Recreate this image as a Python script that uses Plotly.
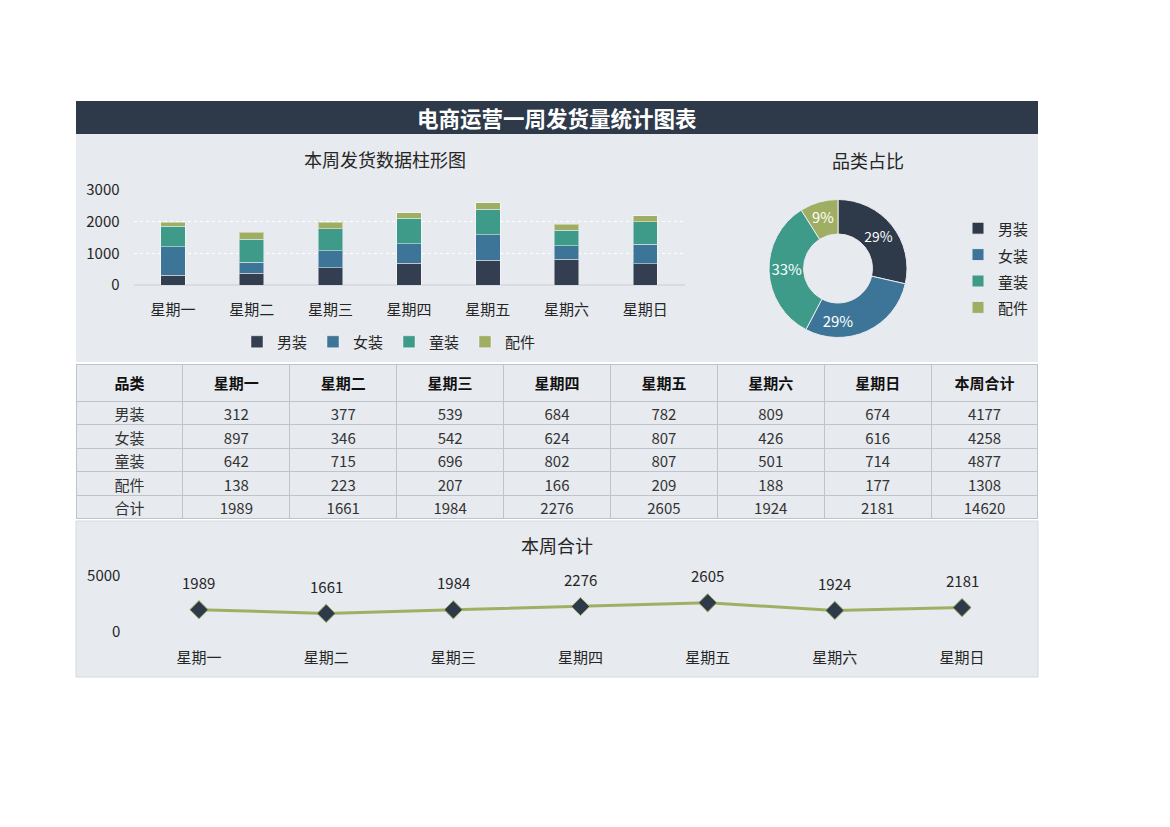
import plotly.graph_objects as go

W, H = 1170, 827
def px(x): return x / W
def py(y): return 1 - y / H

days = ['星期一', '星期二', '星期三', '星期四', '星期五', '星期六', '星期日']
cats = ['男装', '女装', '童装', '配件']
men = [312, 377, 539, 684, 782, 809, 674]
women = [897, 346, 542, 624, 807, 426, 616]
kids = [642, 715, 696, 802, 807, 501, 714]
acc = [138, 223, 207, 166, 209, 188, 177]
series = [men, women, kids, acc]
colors = ['#333E50', '#3C7597', '#3E9A89', '#A0AE63']
pie_colors = ['#2E3A4A', '#3C7597', '#3E9A89', '#A0AE63']

day_tot = [sum(v) for v in zip(*series)]
cat_tot = [sum(s) for s in series]
grand = sum(cat_tot)

FONT = 'Noto Sans CJK SC, Microsoft YaHei, sans-serif'
PANEL = '#E7EAEE'
TXT = '#262626'

fig = go.Figure()

for name, vals, col in zip(cats, series, colors):
    fig.add_trace(go.Bar(x=days, y=vals, name=name,
                         marker=dict(color=col, line=dict(color='rgba(255,255,255,0.45)', width=1)),
                         width=0.31, xaxis='x', yaxis='y', legend='legend'))

pie_labels = ['<span style="font-size:15px">%s</span>' % c for c in cats]
fig.add_trace(go.Pie(labels=pie_labels, values=cat_tot, hole=0.5, sort=False, direction='clockwise', rotation=0,
                     marker=dict(colors=pie_colors, line=dict(color=PANEL, width=1)),
                     texttemplate='%{percent:.0%}', textposition='inside', insidetextorientation='horizontal',
                     textfont=dict(color='white', size=15, family=FONT),
                     domain=dict(x=[px(769), px(907)], y=[py(338), py(199)]), legend='legend2'))

fig.add_trace(go.Table(
    domain=dict(x=[px(76), px(1038)], y=[py(519.5), py(364)]),
    columnwidth=[1] * 9,
    header=dict(values=['<b>品类</b>'] + ['<b>%s</b>' % d for d in days] + ['<b>本周合计</b>'],
                fill_color=PANEL, line_color='#BFC4CA', height=36,
                font=dict(family=FONT, size=15, color='#111111'), align='center'),
    cells=dict(values=[cats + ['合计']] + [[s[i] for s in series] + [day_tot[i]] for i in range(7)] + [cat_tot + [grand]],
               fill_color=PANEL, line_color='#BFC4CA', height=23.5,
               font=dict(family=FONT, size=15, color='#333333'), align='center')))

fig.add_trace(go.Scatter(x=days, y=day_tot, mode='lines+markers', xaxis='x2', yaxis='y2', showlegend=False,
                         line=dict(color='#9FB064', width=3),
                         marker=dict(symbol='diamond', size=14, color='#2E3A4A',
                                     line=dict(color='#9FB064', width=1))))

def title(text, x, y, size=18, color=TXT):
    return dict(text=text, x=px(x), y=py(y), xref='paper', yref='paper', showarrow=False,
                xanchor='center', yanchor='middle', font=dict(family=FONT, size=size, color=color))

annotations = [
    title('<b>电商运营一周发货量统计图表</b>', 557, 118, 21.5, 'white'),
    title('本周发货数据柱形图', 385, 159),
    title('品类占比', 868, 160),
    title('本周合计', 557, 545),
]
for d, v in zip(days, day_tot):
    annotations.append(dict(text=str(v), x=d, y=v, xref='x2', yref='y2', showarrow=False, yshift=27,
                            xanchor='center', yanchor='middle',
                            font=dict(family=FONT, size=15, color=TXT)))

shapes = [
    dict(type='rect', xref='paper', yref='paper', x0=px(76), x1=px(1038), y0=py(134), y1=py(101),
         fillcolor='#2E3A4A', line=dict(width=0), layer='below'),
    dict(type='rect', xref='paper', yref='paper', x0=px(76), x1=px(1038), y0=py(362), y1=py(134),
         fillcolor=PANEL, line=dict(width=0), layer='below'),
    dict(type='rect', xref='paper', yref='paper', x0=px(76), x1=px(1038), y0=py(677), y1=py(521),
         fillcolor=PANEL, line=dict(color='#D5D9DE', width=1), layer='below'),
]

fig.update_layout(
    width=W, height=H, margin=dict(l=0, r=0, t=0, b=0, autoexpand=False),
    paper_bgcolor='white', plot_bgcolor='rgba(0,0,0,0)',
    font=dict(family=FONT, size=15, color=TXT),
    barmode='stack',
    annotations=annotations, shapes=shapes,
    xaxis=dict(domain=[px(133.6), px(684.6)], anchor='y', range=[-0.5, 6.5], showgrid=False, ticks='',
               showline=False, tickfont=dict(size=15, color=TXT), ticklabelstandoff=14, automargin=False),
    yaxis=dict(domain=[py(285), py(190)], anchor='x', range=[0, 3000], dtick=1000, showgrid=True,
               gridcolor='#FFFFFF', griddash='dot', gridwidth=1, zeroline=True, zerolinecolor='#D8DCE1',
               tickfont=dict(size=15, color=TXT), ticks='', ticklabelstandoff=13, automargin=False),
    xaxis2=dict(domain=[px(135.4), px(1025.6)], anchor='y2', range=[-0.5, 6.5], showgrid=False, ticks='',
                showline=False, tickfont=dict(size=15, color=TXT), ticklabelstandoff=15, automargin=False),
    yaxis2=dict(domain=[py(632), py(576)], anchor='x2', range=[0, 5000], tickvals=[0, 5000], showgrid=True,
                gridcolor='#DADDE2', zeroline=False, tickfont=dict(size=15, color=TXT), ticks='',
                ticklabelstandoff=14, automargin=False),
    legend=dict(orientation='h', x=px(389), y=py(342), xanchor='center', yanchor='middle',
                bgcolor='rgba(0,0,0,0)', font=dict(size=15, color=TXT), itemwidth=30, entrywidth=31,
                traceorder='normal'),
    legend2=dict(orientation='v', x=px(958), y=py(268), xanchor='left', yanchor='middle',
                 bgcolor='rgba(0,0,0,0)', font=dict(size=18, color=TXT), itemwidth=30),
)

fig.write_html('out.html', config={'displayModeBar': False},
               post_script="document.body.style.margin='0';")
